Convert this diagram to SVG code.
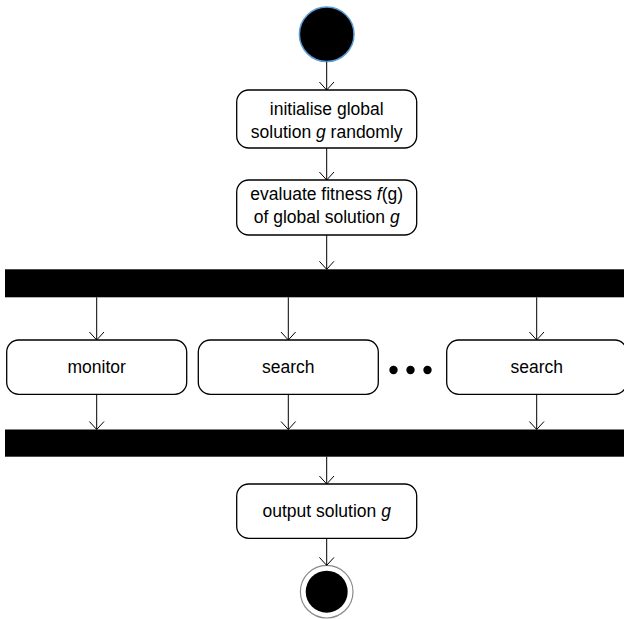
<svg xmlns="http://www.w3.org/2000/svg" width="624" height="619" viewBox="0 0 624 619">
<style>
.box{fill:#fff;stroke:#000;stroke-width:1.3}
.bar{fill:#000}
.lbl{font-family:"Liberation Sans",Arial,sans-serif;font-size:17.5px;fill:#000;text-anchor:middle}
.conn{stroke:#000;stroke-width:1;fill:none}
.it{font-style:italic}
</style>
<defs>
<marker id="arr" viewBox="0 0 20 20" refX="10" refY="10" markerWidth="20" markerHeight="20" markerUnits="userSpaceOnUse" orient="auto">
<path d="M2,2.7 L10,10 L2,17.3" fill="none" stroke="#000" stroke-width="1"/>
</marker>
</defs>
<rect width="624" height="619" fill="#fff"/>
<g id="start"><circle cx="326.7" cy="34.3" r="27.3" fill="#000" stroke="#5b9bd5" stroke-width="1.5"/></g>
<g id="init"><rect class="box" x="236.7" y="90" width="180" height="58" rx="12"/>
<text class="lbl" x="326.7" y="115">initialise global</text>
<text class="lbl" x="326.7" y="138.3">solution <tspan class="it">g</tspan> randomly</text></g>
<g id="eval"><rect class="box" x="236.7" y="180" width="180" height="55" rx="12"/>
<text class="lbl" x="326.7" y="200">evaluate fitness <tspan class="it">f</tspan>(g)</text>
<text class="lbl" x="326.7" y="223.3">of global solution <tspan class="it">g</tspan></text></g>
<g id="fork"><rect class="bar" x="5" y="269.3" width="625" height="28"/></g>
<g id="monitor"><rect class="box" x="6.7" y="340" width="180" height="54.3" rx="12"/>
<text class="lbl" x="96.7" y="373.3">monitor</text></g>
<g id="search1"><rect class="box" x="198.3" y="340" width="180" height="54.3" rx="12"/>
<text class="lbl" x="288.3" y="373.3">search</text></g>
<g id="dots"><circle cx="393.5" cy="370" r="4.2" fill="#000"/><circle cx="410.5" cy="370" r="4.2" fill="#000"/><circle cx="427.5" cy="370" r="4.2" fill="#000"/></g>
<g id="search2"><rect class="box" x="446.7" y="340" width="180" height="54.3" rx="12"/>
<text class="lbl" x="536.7" y="373.3">search</text></g>
<g id="join"><rect class="bar" x="5" y="429.5" width="625" height="27.2"/></g>
<g id="output"><rect class="box" x="236.7" y="484" width="180" height="54.3" rx="12"/>
<text class="lbl" x="326.7" y="516.7">output solution <tspan class="it">g</tspan></text></g>
<g id="end"><circle cx="326.7" cy="591.7" r="26.3" fill="#fff" stroke="#8a8a8a" stroke-width="1.2"/><circle cx="326.7" cy="591.7" r="21" fill="#000"/></g>
<g id="connectors">
<line class="conn" x1="326.7" y1="61.7" x2="326.7" y2="90" marker-end="url(#arr)"/>
<line class="conn" x1="326.7" y1="148" x2="326.7" y2="180" marker-end="url(#arr)"/>
<line class="conn" x1="326.7" y1="235" x2="326.7" y2="269.3" marker-end="url(#arr)"/>
<line class="conn" x1="96.7" y1="297.3" x2="96.7" y2="340" marker-end="url(#arr)"/>
<line class="conn" x1="288.3" y1="297.3" x2="288.3" y2="340" marker-end="url(#arr)"/>
<line class="conn" x1="536.7" y1="297.3" x2="536.7" y2="340" marker-end="url(#arr)"/>
<line class="conn" x1="96.7" y1="394.3" x2="96.7" y2="429.5" marker-end="url(#arr)"/>
<line class="conn" x1="288.3" y1="394.3" x2="288.3" y2="429.5" marker-end="url(#arr)"/>
<line class="conn" x1="536.7" y1="394.3" x2="536.7" y2="429.5" marker-end="url(#arr)"/>
<line class="conn" x1="326.7" y1="456.7" x2="326.7" y2="484" marker-end="url(#arr)"/>
<line class="conn" x1="326.7" y1="538.3" x2="326.7" y2="565.4" marker-end="url(#arr)"/>
</g>
</svg>
